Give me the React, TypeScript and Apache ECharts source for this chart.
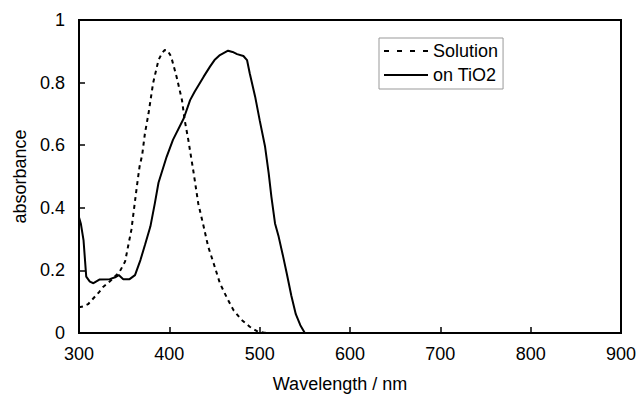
import React, { useEffect, useRef } from "react";
import * as echarts from "echarts";

const solutionWl = [300, 305, 310, 316, 322, 327, 333, 338, 345, 351, 358, 364, 367, 370, 373, 377, 382, 388, 392, 395, 398, 402, 408, 414, 417, 421, 427, 432, 438, 443, 449, 456, 464, 471, 480, 489, 498, 505, 510];
const solutionAbs = [0.082, 0.085, 0.092, 0.111, 0.13, 0.148, 0.162, 0.175, 0.196, 0.228, 0.33, 0.467, 0.531, 0.57, 0.638, 0.702, 0.798, 0.872, 0.895, 0.904, 0.903, 0.883, 0.819, 0.744, 0.68, 0.617, 0.51, 0.414, 0.34, 0.276, 0.223, 0.159, 0.111, 0.073, 0.042, 0.02, 0.004, 0.001, 0];

const tio2Wl = [300, 302, 305, 308, 312, 316, 323, 334, 340, 344, 349, 356, 362, 368, 373, 379, 384, 388, 397, 404, 416, 423, 428, 438, 445, 450, 456, 465, 470, 475, 482, 486, 489, 495, 500, 506, 510, 513, 517, 521, 526, 530, 535, 540, 545, 550];
const tio2Abs = [0.37, 0.35, 0.297, 0.18, 0.164, 0.159, 0.171, 0.172, 0.178, 0.185, 0.172, 0.172, 0.185, 0.233, 0.281, 0.34, 0.415, 0.48, 0.563, 0.617, 0.686, 0.744, 0.771, 0.819, 0.851, 0.872, 0.888, 0.902, 0.898, 0.891, 0.885, 0.872, 0.83, 0.755, 0.68, 0.595, 0.51, 0.435, 0.35, 0.308, 0.244, 0.19, 0.12, 0.06, 0.025, 0];

const seriesNames = ["Solution", "on TiO2"];
const xTitle = "Wavelength / nm";
const yTitle = "absorbance";

const FONT = "'Liberation Sans', Arial, sans-serif";
const FS = 18;

const DASH_ICON = "path://M0,0h5v2h-5z M13,0h5v2h-5z M26,0h5v2h-5z M39,0h5v2h-5z";
const SOLID_ICON = "path://M0,0h44v2h-44z";

export default function App() {
  const ref = useRef<HTMLDivElement>(null);
  useEffect(() => {
    if (!ref.current) return;
    const chart = echarts.init(ref.current, undefined, { renderer: "svg" });
    const axisCommon = {
      axisLine: { show: true, lineStyle: { color: "#000", width: 2 } },
      axisTick: { show: true, inside: true, length: 6, lineStyle: { color: "#000", width: 1.5 } },
      splitLine: { show: false },
      nameLocation: "middle" as const,
    };
    chart.setOption({
      animation: false,
      textStyle: { fontFamily: FONT },
      grid: {
        left: 79,
        right: 19,
        top: 20,
        bottom: 71,
        show: true,
        borderColor: "#000",
        borderWidth: 2,
        backgroundColor: "transparent",
      },
      legend: {
        data: [
          { name: seriesNames[0], icon: DASH_ICON },
          { name: seriesNames[1], icon: SOLID_ICON },
        ],
        orient: "vertical",
        left: 379,
        top: 38,
        padding: [4, 5, 5, 5],
        itemGap: 6,
        itemWidth: 44,
        itemHeight: 2,
        itemStyle: { color: "#000", borderWidth: 0 },
        borderColor: "#999",
        borderWidth: 1,
        textStyle: { color: "#000", fontSize: FS, fontFamily: FONT },
      },
      xAxis: {
        type: "value",
        min: 300,
        max: 900,
        interval: 100,
        name: xTitle,
        nameGap: 42,
        nameTextStyle: { color: "#000", fontSize: FS, fontFamily: FONT, padding: [0, 20, 0, 0] },
        axisLabel: { color: "#000", fontSize: FS, margin: 12, fontFamily: FONT },
        ...axisCommon,
      },
      yAxis: {
        type: "value",
        min: 0,
        max: 1,
        interval: 0.2,
        name: yTitle,
        nameGap: 50,
        nameTextStyle: { color: "#000", fontSize: FS, fontFamily: FONT },
        axisLabel: { color: "#000", fontSize: FS, margin: 14, fontFamily: FONT },
        ...axisCommon,
      },
      series: [
        {
          name: seriesNames[0],
          type: "line",
          data: solutionWl.map((w, i) => [w, solutionAbs[i]]),
          symbol: "none",
          lineStyle: { color: "#000", width: 2, type: [4, 4] },
          itemStyle: { color: "#000" },
        },
        {
          name: seriesNames[1],
          type: "line",
          data: tio2Wl.map((w, i) => [w, tio2Abs[i]]),
          symbol: "none",
          lineStyle: { color: "#000", width: 2 },
          itemStyle: { color: "#000" },
        },
      ],
    });
    return () => chart.dispose();
  }, []);
  return <div ref={ref} style={{ width: 640, height: 404, position: "absolute", left: 0, top: 0 }} />;
}
